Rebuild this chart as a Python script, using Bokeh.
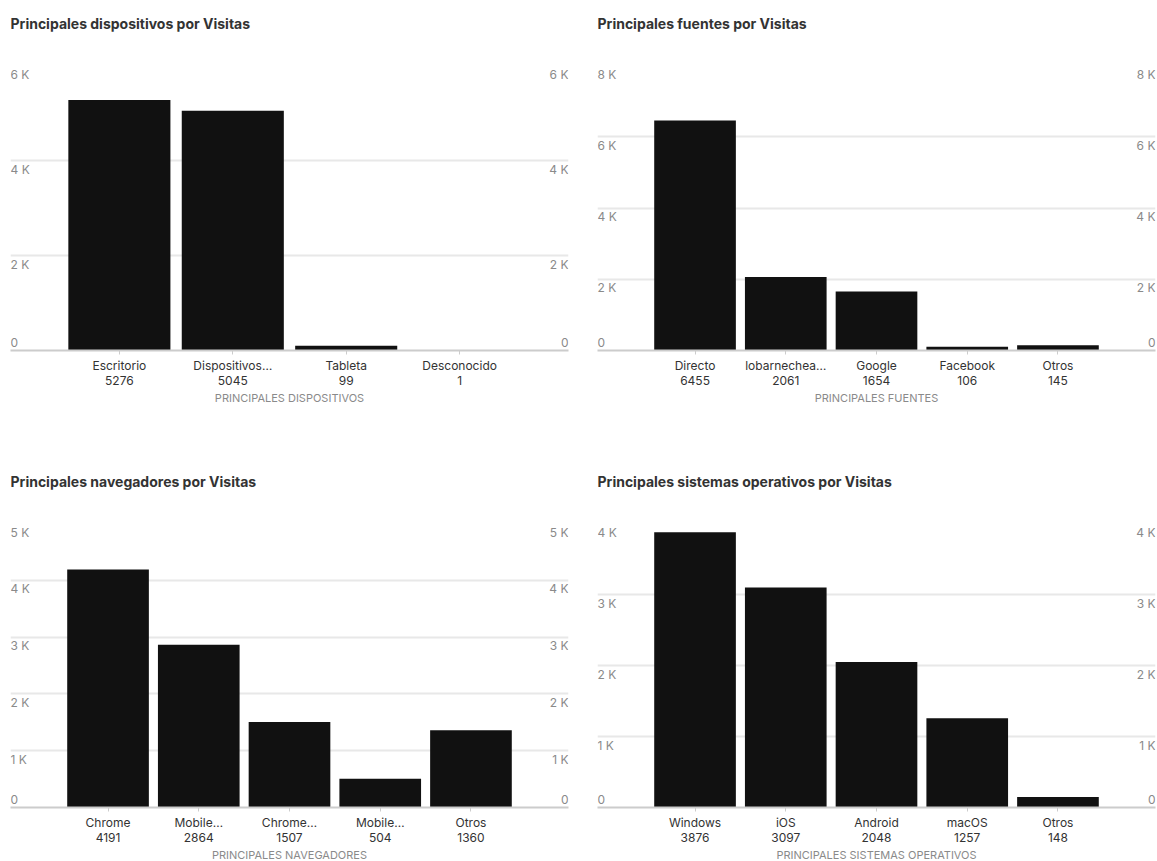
from bokeh.plotting import figure
from bokeh.layouts import row, column
from bokeh.models import Range1d, FixedTicker, Title
from bokeh.embed import file_html
from bokeh.resources import INLINE
from bokeh.core.properties import value

# ---- data ----
dev_title = "Principales dispositivos por Visitas"
dev_axis = "PRINCIPALES DISPOSITIVOS"
dev_cats = ["Escritorio", "Dispositivos…", "Tableta", "Desconocido"]
dev_vals = [5276, 5045, 99, 1]
dev_ticks = [0, 2000, 4000, 6000]
dev_tick_labels = ["0", "2 K", "4 K", "6 K"]

src_title = "Principales fuentes por Visitas"
src_axis = "PRINCIPALES FUENTES"
src_cats = ["Directo", "lobarnechea…", "Google", "Facebook", "Otros"]
src_vals = [6455, 2061, 1654, 106, 145]
src_ticks = [0, 2000, 4000, 6000, 8000]
src_tick_labels = ["0", "2 K", "4 K", "6 K", "8 K"]

nav_title = "Principales navegadores por Visitas"
nav_axis = "PRINCIPALES NAVEGADORES"
nav_cats = ["Chrome", "Mobile…", "Chrome…", "Mobile…", "Otros"]
nav_vals = [4191, 2864, 1507, 504, 1360]
nav_ticks = [0, 1000, 2000, 3000, 4000, 5000]
nav_tick_labels = ["0", "1 K", "2 K", "3 K", "4 K", "5 K"]

os_title = "Principales sistemas operativos por Visitas"
os_axis = "PRINCIPALES SISTEMAS OPERATIVOS"
os_cats = ["Windows", "iOS", "Android", "macOS", "Otros"]
os_vals = [3876, 3097, 2048, 1257, 148]
os_ticks = [0, 1000, 2000, 3000, 4000]
os_tick_labels = ["0", "1 K", "2 K", "3 K", "4 K"]

FONT = value("Inter")
TICK_GRAY = "#8a8a8a"


def panel(title, axis_label, cats, vals, ticks, tick_labels,
          b_left, b_right, frame_h, b_bottom):
    n = len(cats)
    idx = list(range(n))
    pad = 0.115 * n
    x0, x1 = -0.5 - pad, n - 0.5 + pad
    p = figure(frame_width=558, frame_height=frame_h,
               x_range=Range1d(x0, x1), y_range=Range1d(0, ticks[-1]),
               output_backend="svg", toolbar_location=None,
               y_axis_location=None,
               min_border_left=b_left, min_border_right=b_right,
               min_border_top=65, min_border_bottom=b_bottom)
    p.outline_line_color = None
    p.background_fill_color = "white"
    p.border_fill_color = "white"

    # spacer between title and frame (closest to the frame)
    p.add_layout(Title(text=" ", text_font_size="1px", standoff=31), "above")

    p.title.text = title
    p.title.text_font = "Inter"
    p.title.text_font_size = "14px"
    p.title.text_font_style = "bold"
    p.title.text_color = "#333333"
    p.title.align = "left"
    p.title.standoff = 0

    p.xgrid.visible = False
    p.ygrid.ticker = FixedTicker(ticks=ticks)
    p.ygrid.grid_line_color = "#e8e8e8"
    p.ygrid.grid_line_width = 2

    p.vbar(x=idx, top=vals, width=0.9, fill_color="#111111", line_color=None)

    ax = p.xaxis[0]
    ax.ticker = FixedTicker(ticks=idx, minor_ticks=[])
    ax.major_label_overrides = {i: f"{c}\n{v}" for i, c, v in zip(idx, cats, vals)}
    ax.axis_line_color = "#cccccc"
    ax.axis_line_width = 2
    ax.major_tick_in = 0
    ax.major_tick_out = 4
    ax.major_tick_line_color = "#cccccc"
    ax.minor_tick_out = 0
    ax.minor_tick_in = 0
    ax.major_label_standoff = 3
    ax.major_label_text_font = "Inter"
    ax.major_label_text_font_size = "12px"
    ax.major_label_text_line_height = 1.05
    ax.major_label_text_color = "#333333"
    ax.axis_label = axis_label
    ax.axis_label_standoff = 0
    ax.axis_label_text_font = "Inter"
    ax.axis_label_text_font_size = "11px"
    ax.axis_label_text_font_style = "normal"
    ax.axis_label_text_color = TICK_GRAY

    zt = [t for t in ticks if t == 0]
    zl = [l for t, l in zip(ticks, tick_labels) if t == 0]
    ot = [t for t in ticks if t != 0]
    ol = [l for t, l in zip(ticks, tick_labels) if t != 0]
    for xpos, align in ((x0, "left"), (x1, "right")):
        p.text(x=[xpos] * len(zt), y=zt, text=zl, text_align=align,
               text_baseline="bottom", y_offset=-4, text_font=FONT,
               text_font_size="12px", text_color=TICK_GRAY)
        p.text(x=[xpos] * len(ot), y=ot, text=ol, text_align=align,
               text_baseline="top", y_offset=1, text_font=FONT,
               text_font_size="12px", text_color=TICK_GRAY)
    return p


p1 = panel(dev_title, dev_axis, dev_cats, dev_vals, dev_ticks, dev_tick_labels,
           10, 14, 285, 108)
p2 = panel(src_title, src_axis, src_cats, src_vals, src_ticks, src_tick_labels,
           15, 2, 285, 108)
p3 = panel(nav_title, nav_axis, nav_cats, nav_vals, nav_ticks, nav_tick_labels,
           10, 14, 284, 54)
p4 = panel(os_title, os_axis, os_cats, os_vals, os_ticks, os_tick_labels,
           15, 2, 284, 54)

layout = column(row(p1, p2), row(p3, p4))
open("out.html", "w").write(file_html(layout, INLINE))
